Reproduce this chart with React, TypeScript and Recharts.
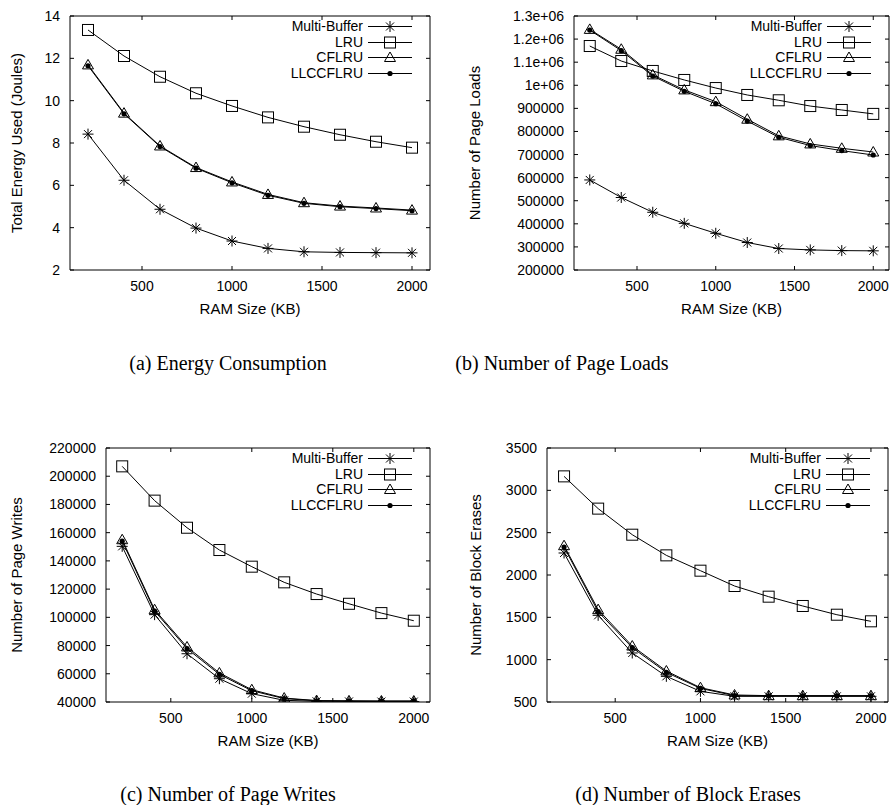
import { LineChart, Line, XAxis, YAxis, Legend } from "recharts";

const ramSizes = [200, 400, 600, 800, 1000, 1200, 1400, 1600, 1800, 2000];
const seriesNames = ["Multi-Buffer", "LRU", "CFLRU", "LLCCFLRU"];
const xTicks = [500, 1000, 1500, 2000];

// (a) energy, joules
const energyMultiBuffer = [8.42, 6.24, 4.87, 3.98, 3.37, 3.02, 2.86, 2.83, 2.82, 2.81];
const energyLRU = [13.34, 12.11, 11.13, 10.35, 9.75, 9.21, 8.77, 8.39, 8.06, 7.78];
const energyCFLRU = [11.69, 9.41, 7.86, 6.84, 6.16, 5.57, 5.18, 5.02, 4.93, 4.83];
const energyLLCCFLRU = [11.65, 9.38, 7.83, 6.81, 6.12, 5.53, 5.15, 4.99, 4.9, 4.8];
const energyTicks = [2, 4, 6, 8, 10, 12, 14];

// (b) page loads
const loadsMultiBuffer = [590000, 514000, 450000, 402000, 359000, 319000, 293000, 287000, 284000, 283000];
const loadsLRU = [1170000, 1105000, 1062000, 1023000, 988000, 958000, 935000, 910000, 893000, 876000];
const loadsCFLRU = [1242000, 1156000, 1045000, 980000, 929000, 853000, 781000, 746000, 727000, 711000];
const loadsLLCCFLRU = [1239000, 1150000, 1040000, 974000, 920000, 845000, 775000, 739000, 717000, 698000];
const loadsTicks = [200000, 300000, 400000, 500000, 600000, 700000, 800000, 900000, 1000000, 1100000, 1200000, 1300000];

// (c) page writes
const writesMultiBuffer = [150300, 101900, 74200, 56500, 45900, 41200, 40500, 40400, 40300, 40300];
const writesLRU = [207000, 182700, 163500, 147700, 135900, 124800, 116500, 109600, 103000, 97600];
const writesCFLRU = [155000, 105400, 79000, 60600, 48700, 42800, 41000, 40800, 40700, 40700];
const writesLLCCFLRU = [154000, 104500, 77800, 59600, 48000, 42400, 40900, 40700, 40600, 40600];
const writesTicks = [40000, 60000, 80000, 100000, 120000, 140000, 160000, 180000, 200000, 220000];

// (d) block erases
const erasesMultiBuffer = [2260, 1524, 1079, 803, 626, 567, 567, 567, 567, 567];
const erasesLRU = [3165, 2784, 2476, 2232, 2051, 1870, 1744, 1634, 1531, 1453];
const erasesCFLRU = [2346, 1591, 1161, 866, 669, 583, 575, 575, 575, 575];
const erasesLLCCFLRU = [2330, 1567, 1142, 850, 661, 575, 572, 572, 572, 572];
const erasesTicks = [500, 1000, 1500, 2000, 2500, 3000, 3500];

const SANS = "'Liberation Sans', Arial, Helvetica, sans-serif";
const SERIF = "'Liberation Serif', 'Times New Roman', Times, serif";
const INK = "#000";
const KEY_ROW = 15.6;

function Star({ cx, cy }: { cx: number; cy: number }) {
  const r = 5.5;
  const d = 4;
  return (
    <g stroke={INK} strokeWidth={1}>
      <line x1={cx - r} y1={cy} x2={cx + r} y2={cy} />
      <line x1={cx} y1={cy - r} x2={cx} y2={cy + r} />
      <line x1={cx - d} y1={cy - d} x2={cx + d} y2={cy + d} />
      <line x1={cx - d} y1={cy + d} x2={cx + d} y2={cy - d} />
    </g>
  );
}

function Square({ cx, cy }: { cx: number; cy: number }) {
  return <rect x={cx - 5.5} y={cy - 5.5} width={11} height={11} fill="none" stroke={INK} strokeWidth={1} />;
}

function Triangle({ cx, cy }: { cx: number; cy: number }) {
  return (
    <polygon
      points={`${cx},${cy - 5.5} ${cx - 5.5},${cy + 4} ${cx + 5.5},${cy + 4}`}
      fill="none"
      stroke={INK}
      strokeWidth={1}
    />
  );
}

function Dot({ cx, cy }: { cx: number; cy: number }) {
  return <circle cx={cx} cy={cy} r={2.6} fill={INK} />;
}

const MARKERS = [Star, Square, Triangle, Dot];

function KeyBox() {
  return (
    <div style={{ width: 160 }}>
      {seriesNames.map((name, i) => {
        const M = MARKERS[i];
        return (
          <div
            key={name}
            style={{
              display: "flex",
              justifyContent: "flex-end",
              alignItems: "center",
              height: KEY_ROW,
              lineHeight: `${KEY_ROW}px`,
              fontFamily: SANS,
              fontSize: 14,
              color: INK,
            }}
          >
            <span>{name}</span>
            <svg width={49} height={15} style={{ display: "block" }}>
              <line x1={5} y1={7.5} x2={49} y2={7.5} stroke={INK} strokeWidth={1} />
              <M cx={27} cy={7.5} />
            </svg>
          </div>
        );
      })}
    </div>
  );
}

interface PanelProps {
  left: number;
  top: number;
  width: number;
  height: number;
  plotLeft: number;
  plotRight: number;
  plotTop: number;
  yLabel: string;
  yLabelX: number;
  yTicks: number[];
  series: number[][];
  fmt?: (v: number) => string;
}

function Panel(p: PanelProps) {
  const data = ramSizes.map((ram, i) => {
    const row: Record<string, number> = { ram };
    seriesNames.forEach((n, s) => {
      row[n] = p.series[s][i];
    });
    return row;
  });
  const yDomain = [p.yTicks[0], p.yTicks[p.yTicks.length - 1]];
  const tickStyle = { fill: INK, fontSize: 14, fontFamily: SANS };
  const marginRight = p.width - p.plotRight - 1;

  return (
    <div style={{ position: "absolute", left: p.left, top: p.top }}>
      <LineChart
        width={p.width}
        height={p.height}
        data={data}
        margin={{ top: p.plotTop - 1, right: marginRight, bottom: 0, left: 0 }}
      >
        <XAxis
          dataKey="ram"
          type="number"
          domain={[100, 2100]}
          ticks={xTicks}
          interval={0}
          allowDataOverflow
          height={60}
          stroke={INK}
          tickSize={-4}
          tickMargin={15}
          tick={tickStyle}
          label={{
            value: "RAM Size (KB)",
            position: "insideBottom",
            offset: 16,
            style: { fill: INK, fontSize: 15, fontFamily: SANS },
          }}
        />
        <XAxis
          xAxisId="top"
          dataKey="ram"
          type="number"
          orientation="top"
          domain={[100, 2100]}
          ticks={xTicks}
          interval={0}
          allowDataOverflow
          height={1}
          stroke={INK}
          tickSize={-4}
          tickFormatter={() => ""}
        />
        <YAxis
          type="number"
          domain={yDomain}
          ticks={p.yTicks}
          interval={0}
          allowDataOverflow
          width={p.plotLeft}
          stroke={INK}
          tickSize={-4}
          tickMargin={14}
          tick={tickStyle}
          tickFormatter={p.fmt}
          label={{
            value: p.yLabel,
            angle: -90,
            position: "insideLeft",
            offset: p.yLabelX,
            style: { fill: INK, fontSize: 15, fontFamily: SANS, textAnchor: "middle" },
          }}
        />
        <YAxis
          yAxisId="right"
          type="number"
          orientation="right"
          domain={yDomain}
          ticks={p.yTicks}
          interval={0}
          allowDataOverflow
          width={1}
          stroke={INK}
          tickSize={-4}
          tickFormatter={() => ""}
        />
        <Legend
          layout="vertical"
          align="center"
          verticalAlign="middle"
          wrapperStyle={{ left: p.plotRight - 18 - 160, top: p.plotTop + 3, width: 160 }}
          content={() => <KeyBox />}
        />
        {seriesNames.map((name, s) => {
          const M = MARKERS[s];
          return (
            <Line
              key={name}
              type="linear"
              dataKey={name}
              stroke={INK}
              strokeWidth={1}
              isAnimationActive={false}
              activeDot={false}
              dot={(d: any) => <M key={`${name}-${d.index}`} cx={d.cx} cy={d.cy} />}
            />
          );
        })}
      </LineChart>
    </div>
  );
}

const sciFmt = (v: number) => (v >= 1000000 ? `${+(v / 1000000).toFixed(1)}e+06` : String(v));

function Caption({ text, cx, cy }: { text: string; cx: number; cy: number }) {
  return (
    <div
      style={{
        position: "absolute",
        left: cx,
        top: cy - 12,
        transform: "translateX(-50%)",
        whiteSpace: "nowrap",
        fontFamily: SERIF,
        fontSize: 20,
        lineHeight: "24px",
        color: INK,
      }}
    >
      {text}
    </div>
  );
}

export default function App() {
  return (
    <div style={{ position: "absolute", left: 0, top: 0, width: 893, height: 805, background: "#fff" }}>
      <Panel
        left={0}
        top={0}
        width={446}
        height={330}
        plotLeft={70}
        plotRight={430}
        plotTop={16}
        yLabel="Total Energy Used (Joules)"
        yLabelX={17}
        yTicks={energyTicks}
        series={[energyMultiBuffer, energyLRU, energyCFLRU, energyLLCCFLRU]}
      />
      <Panel
        left={446}
        top={0}
        width={447}
        height={330}
        plotLeft={128}
        plotRight={443}
        plotTop={16}
        yLabel="Number of Page Loads"
        yLabelX={29}
        yTicks={loadsTicks}
        series={[loadsMultiBuffer, loadsLRU, loadsCFLRU, loadsLLCCFLRU]}
        fmt={sciFmt}
      />
      <Panel
        left={0}
        top={400}
        width={446}
        height={362}
        plotLeft={106}
        plotRight={430}
        plotTop={48}
        yLabel="Number of Page Writes"
        yLabelX={17}
        yTicks={writesTicks}
        series={[writesMultiBuffer, writesLRU, writesCFLRU, writesLLCCFLRU]}
      />
      <Panel
        left={446}
        top={400}
        width={447}
        height={362}
        plotLeft={101}
        plotRight={442}
        plotTop={48}
        yLabel="Number of Block Erases"
        yLabelX={30}
        yTicks={erasesTicks}
        series={[erasesMultiBuffer, erasesLRU, erasesCFLRU, erasesLLCCFLRU]}
      />
      <Caption text="(a) Energy Consumption" cx={228} cy={363} />
      <Caption text="(b) Number of Page Loads" cx={562} cy={363} />
      <Caption text="(c) Number of Page Writes" cx={228} cy={794} />
      <Caption text="(d) Number of Block Erases" cx={688} cy={794} />
    </div>
  );
}
